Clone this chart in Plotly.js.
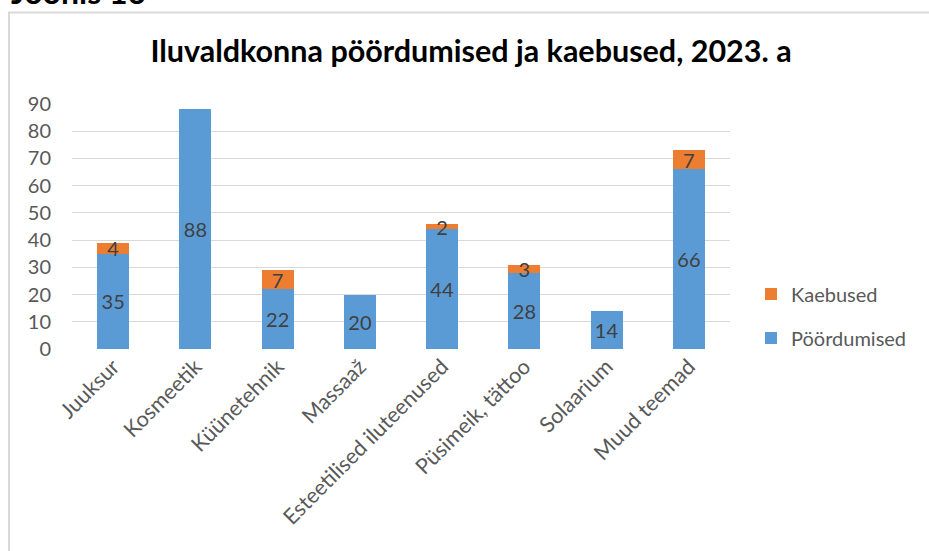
<!DOCTYPE html>
<html>
<head>
<meta charset="utf-8">
<script src="https://cdn.plot.ly/plotly-3.0.1.min.js"></script>
<style>html,body{margin:0;padding:0;background:#fff;}#chart{width:929px;height:551px;}</style>
</head>
<body>
<div id="chart"></div>
<script>
var categories = ["Juuksur", "Kosmeetik", "Küünetehnik", "Massaaž", "Esteetilised iluteenused", "Püsimeik, tättoo", "Solaarium", "Muud teemad"];
var poordumised = [35, 88, 22, 20, 44, 28, 14, 66];
var kaebused = [4, null, 7, null, 2, 3, null, 7];
var yTicks = [0, 10, 20, 30, 40, 50, 60, 70, 80, 90];

var FONT = "Lato, 'Open Sans', sans-serif";
var L = 72, R = 199, T = 104, B = 202, W = 929, H = 551;
var pw = W - L - R, ph = H - T - B;
function px(x) { return (x - L) / pw; }
function py(y) { return (H - B - y) / ph; }

var labelFont = {family: FONT, size: 20, color: "#404040"};

var traces = [
  {
    type: "bar", name: "Pöördumised", x: categories, y: poordumised,
    marker: {color: "#5B9BD5"}, legendgroup: "p", legendrank: 2,
    text: poordumised.map(function(v){ return v == null ? "" : String(v); }),
    textposition: "inside", insidetextanchor: "middle", constraintext: "none", textangle: 0,
    textfont: labelFont, hoverinfo: "x+y+name"
  },
  {
    type: "bar", name: "Kaebused", x: categories, y: kaebused,
    marker: {color: "#ED7D31"}, legendgroup: "k", legendrank: 1,
    text: kaebused.map(function(v){ return v == null ? "" : String(v); }),
    textposition: "inside", insidetextanchor: "middle", constraintext: "none", textangle: 0,
    textfont: labelFont, hoverinfo: "x+y+name"
  }
];

var layout = {
  width: W, height: H,
  margin: {l: L, r: R, t: T, b: B, pad: 0},
  paper_bgcolor: "#ffffff", plot_bgcolor: "#ffffff",
  barmode: "stack", bargap: 0.61,
  font: {family: FONT, color: "#595959"},
  title: {
    text: "<b>Iluvaldkonna pöördumised ja kaebused, 2023. a</b>",
    font: {family: FONT, size: 30.5, color: "#000000"},
    xref: "paper", x: px(471), xanchor: "center",
    yref: "container", y: 1 - 51 / H, yanchor: "middle"
  },
  xaxis: {
    type: "category", tickangle: -45, showgrid: false, zeroline: false,
    showline: false, ticks: "",
    tickfont: {family: FONT, size: 21.5, color: "#595959"}
  },
  yaxis: {
    range: [0, 90], tickvals: yTicks, ticktext: yTicks.map(String),
    showgrid: true, gridcolor: "#D9D9D9", gridwidth: 1.3,
    zeroline: false, showline: false, ticks: "", ticklabelstandoff: 20,
    tickfont: {family: FONT, size: 20, color: "#595959"}
  },
  legend: {
    traceorder: "grouped", x: px(751), xanchor: "left", y: py(316), yanchor: "middle",
    font: {family: FONT, size: 20, color: "#595959"},
    tracegroupgap: 15, itemwidth: 30, bgcolor: "rgba(0,0,0,0)"
  },
  shapes: [
    {type: "rect", xref: "paper", yref: "paper",
     x0: px(9), x1: px(940), y0: py(570), y1: py(12.5),
     line: {color: "#D9D9D9", width: 2}, fillcolor: "rgba(0,0,0,0)", layer: "below"}
  ],
  annotations: [
    {text: "<b>Joonis 16</b>", xref: "paper", yref: "paper",
     x: px(9), xanchor: "left", y: py(13), yanchor: "bottom", showarrow: false,
     font: {family: FONT, size: 32, color: "#000000"}}
  ]
};

Plotly.newPlot("chart", traces, layout, {displayModeBar: false, responsive: false});
</script>
</body>
</html>
